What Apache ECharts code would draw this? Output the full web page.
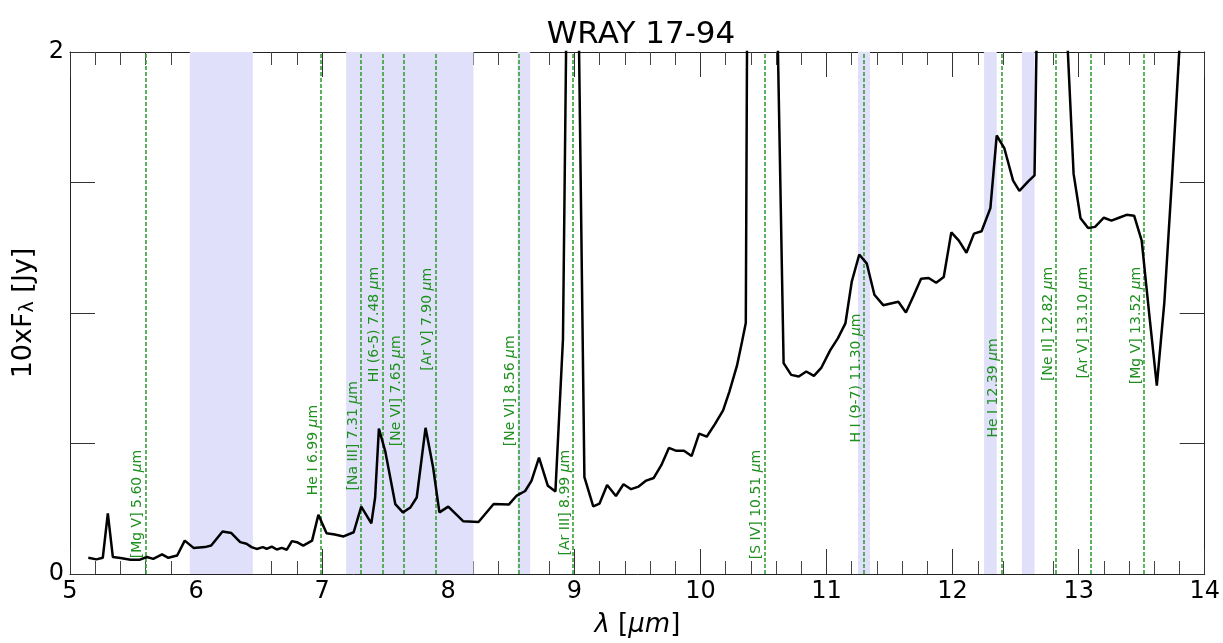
<!DOCTYPE html>
<html><head><meta charset="utf-8">
<script src="https://cdn.jsdelivr.net/npm/echarts/dist/echarts.min.js"></script>
<style>html,body{margin:0;padding:0;background:#fff}#c{width:1223px;height:643px}</style>
</head><body><div id="c"></div><script>
// ---- data ----
const wavelength = [5.145,5.21,5.26,5.30,5.34,5.40,5.48,5.555,5.61,5.66,5.73,5.78,5.85,5.91,5.98,6.07,6.12,6.21,6.28,6.35,6.40,6.44,6.48,6.53,6.56,6.60,6.64,6.68,6.72,6.76,6.80,6.85,6.92,6.97,7.035,7.10,7.17,7.25,7.31,7.39,7.42,7.45,7.50,7.58,7.64,7.70,7.75,7.82,7.88,7.93,8.00,8.12,8.24,8.36,8.48,8.54,8.61,8.66,8.72,8.79,8.85,8.91,8.97,9.03,9.08,9.15,9.20,9.26,9.33,9.39,9.45,9.51,9.57,9.63,9.69,9.75,9.81,9.87,9.93,9.99,10.05,10.115,10.18,10.23,10.29,10.33,10.36,10.42,10.48,10.54,10.60,10.66,10.72,10.78,10.84,10.90,10.96,11.03,11.09,11.15,11.20,11.26,11.32,11.38,11.45,11.57,11.63,11.69,11.75,11.81,11.87,11.93,11.99,12.05,12.11,12.17,12.23,12.30,12.35,12.41,12.48,12.53,12.60,12.65,12.71,12.77,12.83,12.89,12.96,13.015,13.075,13.13,13.20,13.26,13.32,13.38,13.44,13.50,13.56,13.62,13.68,13.74,13.80];
const flux = [0.062,0.056,0.062,0.232,0.065,0.061,0.055,0.055,0.065,0.058,0.075,0.062,0.071,0.128,0.100,0.103,0.109,0.163,0.157,0.122,0.116,0.103,0.096,0.103,0.096,0.105,0.094,0.100,0.093,0.126,0.122,0.109,0.128,0.227,0.156,0.151,0.144,0.160,0.258,0.194,0.293,0.557,0.471,0.268,0.236,0.255,0.293,0.560,0.408,0.236,0.258,0.202,0.199,0.268,0.266,0.299,0.318,0.357,0.446,0.338,0.316,0.90,3.6,2.3,0.371,0.259,0.270,0.341,0.299,0.344,0.325,0.335,0.358,0.368,0.417,0.483,0.472,0.472,0.452,0.538,0.526,0.574,0.627,0.699,0.798,0.89,0.962,7.5,7.0,4.5,2.4,0.808,0.763,0.757,0.776,0.759,0.791,0.858,0.903,0.960,1.119,1.224,1.189,1.070,1.030,1.043,1.002,1.065,1.131,1.134,1.116,1.138,1.309,1.277,1.231,1.304,1.313,1.402,1.680,1.632,1.507,1.468,1.504,1.527,3.4,5.5,4.0,2.25,1.533,1.363,1.326,1.330,1.365,1.354,1.365,1.376,1.373,1.277,0.995,0.722,1.043,1.512,2.02];
const lineWaves = [5.60,6.99,7.31,7.48,7.65,7.90,8.56,8.99,10.51,11.30,12.39,12.82,13.10,13.52];
const lineNames = ['[Mg V] 5.60','He I 6.99','[Na III] 7.31','HI (6-5) 7.48','[Ne VI] 7.65','[Ar V] 7.90','[Ne VI] 8.56','[Ar III] 8.99','[S IV] 10.51','H I (9-7) 11.30','He I 12.39','[Ne II] 12.82','[Ar V] 13.10','[Mg V] 13.52'];
const bandStart = [5.95,7.19,8.55,11.25,12.25,12.55];
const bandEnd   = [6.45,8.20,8.65,11.345,12.35,12.65];
const xTickLabels = ['5','6','7','8','9','10','11','12','13','14'];
const yTickLabels = ['0','2'];
// label placement (top end of each rotated label, in y data units) -- layout only
const labelTop = [0.476,0.648,0.739,1.177,0.914,1.173,0.914,0.476,0.476,0.998,0.903,1.177,1.177,1.177];

const FONT = 'DejaVu Sans';
const GREEN_LINE = '#35a035';
const GREEN_TEXT = '#1f8f1f';
const chart = echarts.init(document.getElementById('c'), null, {renderer:'canvas'});
const tickCol = '#333';
function xAx(pos, labels){
  return {type:'value', position:pos, min:5, max:14, interval:1,
    axisLine:{show:true, onZero:false, lineStyle:{color:'#222', width:1}},
    axisTick:{show:true, inside:true, length:25, lineStyle:{color:tickCol, width:1}},
    minorTick:{show:true, splitNumber:5, length:13, lineStyle:{color:'#444', width:1}},
    splitLine:{show:false}, minorSplitLine:{show:false},
    axisLabel:{show:labels, color:'#000', fontSize:24, fontFamily:FONT, margin:6,
      formatter:(v)=>{const s=String(Math.round(v)); return xTickLabels.includes(s)?s:'';}},
    name: labels ? '{i|λ} [{i|μm}]' : '', nameLocation:'middle', nameGap:38,
    nameTextStyle:{color:'#000', fontSize:26, fontFamily:FONT, rich:{i:{fontStyle:'italic', fontSize:26, fontFamily:FONT, color:'#000'}}}
  };
}
function yAx(pos, labels){
  return {type:'value', position:pos, min:0, max:2, interval:0.5,
    axisLine:{show:true, onZero:false, lineStyle:{color:'#222', width:1}},
    axisTick:{show:true, inside:true, length:25, lineStyle:{color:tickCol, width:1}},
    splitLine:{show:false},
    axisLabel:{show:labels, color:'#000', fontSize:24, fontFamily:FONT, margin:6,
      formatter:(v)=>{const s=String(v); return yTickLabels.includes(s)?s:'';}},
    name: labels ? '10xF{sub|λ} [Jy]' : '', nameLocation:'middle', nameGap:30, nameRotate:90,
    nameTextStyle:{color:'#000', fontSize:27, fontFamily:FONT, rich:{sub:{fontSize:19, fontFamily:FONT, color:'#000', verticalAlign:'bottom', padding:[9,0,0,0]}}}
  };
}
const lineData = wavelength.map((w,i)=>[w, flux[i]]);
chart.setOption({
  animation:false,
  backgroundColor:'#fff',
  title:{text:'WRAY 17-94', left:636, textAlign:'center', top:14, textStyle:{fontSize:31, fontWeight:'normal', color:'#000', fontFamily:FONT}},
  grid:{left:70, right:18, top:52, bottom:66, containLabel:false},
  xAxis:[xAx('bottom', true), xAx('top', false)],
  yAxis:[yAx('left', true), yAx('right', false)],
  series:[
    {type:'line', data:[], silent:true, z:1, symbol:'none',
      markArea:{silent:true, itemStyle:{color:'#e0e0fa'},
        data: bandStart.map((a,i)=>[{xAxis:a},{xAxis:bandEnd[i]}])}},
    {type:'custom', coordinateSystem:'cartesian2d', silent:true, z:3, clip:false,
      data: lineWaves.map((w,i)=>[w, labelTop[i], i]),
      encode:{x:0, y:1},
      renderItem:(params, api)=>{
        const i = api.value(2);
        const x = api.value(0);
        const p = api.coord([x, api.value(1)]);
        const pb = api.coord([x, 0]);
        const pt = api.coord([x, 2]);
        const lx = Math.round(pb[0]);
        return {type:'group', children:[
          {type:'line', shape:{x1:lx, y1:pb[1], x2:lx, y2:pt[1]},
            style:{stroke:GREEN_LINE, lineWidth:1.6, lineDash:[4,2]}},
          {type:'text', x:p[0]-1, y:p[1], rotation:Math.PI/2,
            style:{text: lineNames[i] + ' {mu|μ}m', fill:GREEN_TEXT, fontSize:14, fontFamily:FONT,
              align:'right', verticalAlign:'bottom',
              rich:{mu:{fontStyle:'italic', fontSize:14, fontFamily:FONT, fill:GREEN_TEXT}}}}
        ]};
      }},
    {type:'line', data: lineData, symbol:'none', z:5, clip:true,
      lineStyle:{color:'#000', width:2.5}, silent:true}
  ]
});
</script></body></html>
